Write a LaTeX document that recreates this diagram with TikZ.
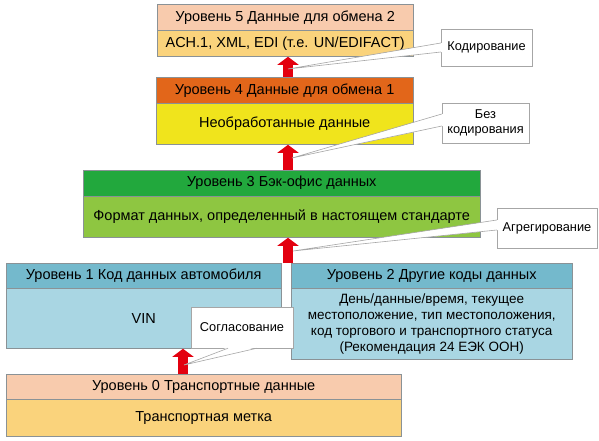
\documentclass[tikz,border=0pt]{standalone}
\usepackage{fontspec}
\setmainfont{Liberation Sans}
\usetikzlibrary{positioning,arrows.meta}

\definecolor{peach}{HTML}{F8CBAD}
\definecolor{sand}{HTML}{FAD37C}
\definecolor{rust}{HTML}{E2661A}
\definecolor{lemon}{HTML}{F0E41C}
\definecolor{leaf}{HTML}{22A83D}
\definecolor{lime}{HTML}{8EC641}
\definecolor{teal}{HTML}{74B9CC}
\definecolor{sky}{HTML}{A9D6E3}
\definecolor{edge}{HTML}{8A9296}
\definecolor{arrowred}{HTML}{E3000F}

\begin{document}
\begin{tikzpicture}[x=1pt, y=-1pt,
  cell/.style args={#1/#2/#3}{draw=edge, fill=#3, minimum width=#1, minimum height=#2,
    inner sep=0pt, align=center, font=\fontsize{14.5}{16}\selectfont},
  note/.style={draw=gray!70, fill=white, inner sep=0pt, align=center,
    font=\fontsize{12.8}{15}\selectfont},
  uparr/.style={arrowred, line width=10pt, -{Triangle[width=21pt, length=8pt]}},
  tail/.style={draw=gray!70, line width=0.6pt}]
  \useasboundingbox (0,0) rectangle (599,441);

  % levels, top to bottom
  \node[cell=256/26/peach, anchor=north west] (l5h) at (157,4) {Уровень 5 Данные для обмена 2};
  \node[cell=256/26/sand, below=0pt of l5h] (l5b) {ACH.1, XML, EDI (т.е. UN/EDIFACT)};
  \node[cell=257/26/rust, anchor=north west] (l4h) at (156,77) {Уровень 4 Данные для обмена 1};
  \node[cell=257/41/lemon, below=0pt of l4h] (l4b) {Необработанные данные};
  \node[cell=397/26/leaf, anchor=north west] (l3h) at (83,170) {Уровень 3 Бэк-офис данных};
  \node[cell=397/41/lime, below=0pt of l3h] (l3b) {Формат данных, определенный в настоящем стандарте};
  \node[cell=275/25/teal, anchor=north west] (l1h) at (6,263) {Уровень 1 Код данных автомобиля};
  \node[cell=275/60/sky, below=0pt of l1h] (l1b) {VIN};
  \node[cell=281/25/teal, anchor=north west] (l2h) at (291,263) {Уровень 2 Другие коды данных};
  \node[cell=281/71/sky, below=0pt of l2h, font=\fontsize{13.5}{16}\selectfont] (l2b) {День/данные/время, текущее\\местоположение, тип местоположения,\\код торгового и транспортного статуса\\(Рекомендация 24 ЕЭК ООН)};
  \node[cell=395/25/peach, anchor=north west] (l0h) at (6,374) {Уровень 0 Транспортные данные};
  \node[cell=395/37/sand, below=0pt of l0h] (l0b) {Транспортная метка};

  % red arrows
  \coordinate (ax) at (288,0);
  \coordinate (bx) at (183,0);
  \draw[uparr] (l4h.north -| ax) -- (l5b.south -| ax);
  \draw[uparr] (l3h.north -| ax) -- (l4b.south -| ax);
  \draw[uparr] (l1h.north -| ax) -- (l3b.south -| ax);
  \draw[uparr] (l0h.north -| bx) -- (l1b.south -| bx);

  % callouts
  \node[note, minimum width=91, minimum height=37] (kod) at (486.5,47.5) {Кодирование};
  \node[note, minimum width=87, minimum height=40] (bez) at (485.5,123) {Без\\кодирования};
  \node[note, minimum width=100, minimum height=40] (agr) at (547,228) {Агрегирование};
  \node[note, minimum width=102, minimum height=41] (sog) at (242,327.5) {Согласование};
  \coordinate (kt) at (288,69);
  \coordinate (bt) at (292,158);
  \coordinate (at) at (293,251);
  \coordinate (st) at (184,365);
  \fill[white] ([shift={(1pt,4.5pt)}]kod.west) -- (kt) -- ([shift={(1pt,-4.5pt)}]kod.west) -- cycle;
  \draw[tail] ([yshift=4.5pt]kod.west) -- (kt) -- ([yshift=-4.5pt]kod.west);
  \fill[white] ([shift={(1pt,9pt)}]bez.west) -- (bt) -- ([shift={(1pt,-3pt)}]bez.west) -- cycle;
  \draw[tail] ([yshift=9pt]bez.west) -- (bt) -- ([yshift=-3pt]bez.west);
  \fill[white] ([shift={(1pt,8pt)}]agr.west) -- (at) -- ([shift={(1pt,-2pt)}]agr.west) -- cycle;
  \draw[tail] ([yshift=8pt]agr.west) -- (at) -- ([yshift=-2pt]agr.west);
  \fill[white] ([shift={(-14pt,1pt)}]sog.south) -- (st) -- ([shift={(15pt,1pt)}]sog.south) -- cycle;
  \draw[tail] ([xshift=-14pt]sog.south) -- (st) -- ([xshift=15pt]sog.south);
\end{tikzpicture}
\end{document}
